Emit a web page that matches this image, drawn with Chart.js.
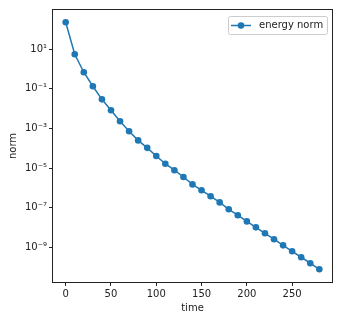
<!DOCTYPE html>
<html>
<head>
<meta charset="utf-8">
<script src="https://cdn.jsdelivr.net/npm/chart.js@4"></script>
<style>
  html, body { margin: 0; padding: 0; background: #fff; }
  #wrap { width: 342px; height: 320px; }
</style>
</head>
<body>
<div id="wrap"><canvas id="normChart" width="342" height="320"></canvas></div>
<script>
// data
var timeValues = [0, 10, 20, 30, 40, 50, 60, 70, 80, 90, 100, 110, 120, 130, 140,
  150, 160, 170, 180, 190, 200, 210, 220, 230, 240, 250, 260, 270, 280];
var energyNorm = [229, 5.6, 0.69, 0.135, 0.0295, 0.0083, 0.0023, 7.2e-4, 2.5e-4, 1.05e-4,
  4.1e-5, 1.66e-5, 7.8e-6, 3.55e-6, 1.5e-6, 7.6e-7, 3.8e-7, 1.86e-7, 8.3e-8, 4.2e-8,
  2.04e-8, 1.02e-8, 5.1e-9, 2.57e-9, 1.26e-9, 6.3e-10, 3.16e-10, 1.58e-10, 7.8e-11];
var xTicks = [0, 50, 100, 150, 200, 250];
var yTicks = [10, 0.1, 1e-3, 1e-5, 1e-7, 1e-9];
var yTickLabels = ['10\u00b9', '10\u207b\u00b9', '10\u207b\u00b3', '10\u207b\u2075', '10\u207b\u2077', '10\u207b\u2079'];
var seriesName = 'energy norm';

var blue = '#1f77b4';
var ink = '#222';
var font = { family: 'DejaVu Sans', size: 10 };

// matplotlib style frame + legend box inside the axes
var framePlugin = {
  id: 'frame',
  afterDraw: function(chart) {
    var ctx = chart.ctx;
    var a = chart.chartArea;
    ctx.save();
    ctx.strokeStyle = ink;
    ctx.lineWidth = 1;
    ctx.strokeRect(Math.round(a.left) - 0.5, Math.round(a.top) - 0.5,
      Math.round(a.right - a.left) + 1, Math.round(a.bottom - a.top) + 1);

    // legend
    var lx = a.right - 104, ly = a.top + 6, lw = 99, lh = 18;
    ctx.beginPath();
    ctx.roundRect(lx + 0.5, ly + 0.5, lw, lh, 2);
    ctx.fillStyle = 'rgba(255,255,255,0.8)';
    ctx.fill();
    ctx.strokeStyle = '#cccccc';
    ctx.stroke();
    var my = ly + lh / 2 + 0.5;
    ctx.beginPath();
    ctx.moveTo(lx + 3, my);
    ctx.lineTo(lx + 23, my);
    ctx.strokeStyle = blue;
    ctx.lineWidth = 1.5;
    ctx.stroke();
    ctx.beginPath();
    ctx.arc(lx + 13, my, 3.3, 0, Math.PI * 2);
    ctx.fillStyle = blue;
    ctx.fill();
    ctx.fillStyle = ink;
    ctx.font = '10px "DejaVu Sans"';
    ctx.textBaseline = 'middle';
    ctx.textAlign = 'left';
    ctx.fillText(seriesName, lx + 31, my);
    ctx.restore();
  }
};

var ctx = document.getElementById('normChart').getContext('2d');
var normChart = new Chart(ctx, {
  type: 'line',
  data: {
    datasets: [{
      label: seriesName,
      data: timeValues.map(function(t, i) { return { x: t, y: energyNorm[i] }; }),
      borderColor: blue,
      backgroundColor: blue,
      borderWidth: 1.5,
      pointRadius: 3.3,
      pointHoverRadius: 3.3,
      pointBorderWidth: 0,
      tension: 0
    }]
  },
  options: {
    responsive: false,
    animation: false,
    devicePixelRatio: 1,
    layout: { padding: { top: 10, right: 10, left: 0, bottom: 0 } },
    plugins: {
      legend: { display: false },
      tooltip: { enabled: false }
    },
    scales: {
      x: {
        type: 'linear',
        min: -14,
        max: 294,
        afterBuildTicks: function(scale) {
          scale.ticks = xTicks.map(function(v) { return { value: v }; });
        },
        afterFit: function(scale) { scale.height = 38; },
        grid: { display: true, drawOnChartArea: false, drawTicks: true, tickLength: 4, color: ink },
        border: { display: false },
        ticks: { color: ink, font: font, padding: 2, maxRotation: 0 },
        title: { display: true, text: 'time', color: ink, font: font, padding: { top: 0, bottom: 6 } }
      },
      y: {
        type: 'logarithmic',
        min: 1.78e-11,
        max: 955,
        afterBuildTicks: function(scale) {
          scale.ticks = yTicks.map(function(v) { return { value: v }; });
        },
        afterFit: function(scale) { scale.width = 53; },
        grid: { display: true, drawOnChartArea: false, drawTicks: true, tickLength: 4, color: ink },
        border: { display: false },
        ticks: {
          color: ink, font: font, padding: 2,
          callback: function(value) {
            var i = yTicks.indexOf(value);
            return i >= 0 ? yTickLabels[i] : '';
          }
        },
        title: { display: true, text: 'norm', color: ink, font: font, padding: { top: 7, bottom: 0 } }
      }
    }
  },
  plugins: [framePlugin]
});
</script>
</body>
</html>
